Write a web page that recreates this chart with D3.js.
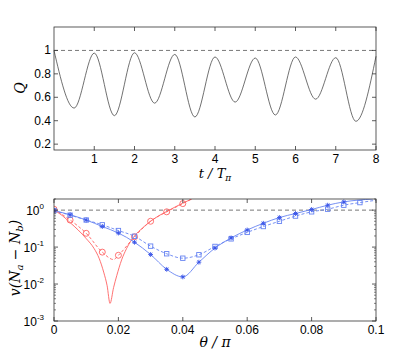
<!DOCTYPE html>
<html lang="en">
<head>
<meta charset="UTF-8">
<script src="https://d3js.org/d3.v7.min.js"></script>
<style>
  body { margin: 0; background: #fff; }
  text { font-family: "Liberation Sans", Arial, sans-serif; }
  .lab { font-family: "DejaVu Serif", "Liberation Serif", serif; font-style: italic; }
</style>
</head>
<body>
<div id="chart"></div>
<script>
// ---- top panel: Q(t) ----
const tVals = [0, 0.5, 1, 1.5, 2, 2.5, 3, 3.5, 4, 4.5, 5, 5.5, 6, 6.5, 7, 7.5, 8]
const qVals = [1.0, 0.508, 0.977, 0.443, 0.98, 0.55, 0.966, 0.432, 0.944, 0.559, 0.935, 0.449, 0.944, 0.584, 0.938, 0.395, 0.95]
const topTicksX = [1, 2, 3, 4, 5, 6, 7, 8]
const topTicksY = [0.2, 0.4, 0.6, 0.8, 1]

// ---- bottom panel: v(Na - Nb) vs theta/pi ----
// red solid (no markers)
const redSolidX = [0, 0.0025, 0.005, 0.0075, 0.01, 0.0125, 0.014, 0.0155, 0.0165, 0.0174, 0.0185, 0.0195, 0.021, 0.0225, 0.025, 0.0275, 0.03, 0.0325, 0.035, 0.0375, 0.04, 0.0428]
const redSolidY = [1.0, 0.72, 0.46, 0.29, 0.17, 0.09, 0.05, 0.02, 0.009, 0.003, 0.008, 0.017, 0.045, 0.09, 0.2, 0.33, 0.5, 0.7, 0.92, 1.2, 1.55, 2.0]
// red dashed with circles
const redDashX = [0, 0.005, 0.01, 0.015, 0.0185, 0.02, 0.025, 0.03, 0.035, 0.04, 0.0425]
const redDashY = [1.06, 0.54, 0.236, 0.073, 0.046, 0.06, 0.19, 0.5, 0.9, 1.5, 1.95]
const redMarkX = [0, 0.005, 0.01, 0.015, 0.02, 0.025, 0.03, 0.035, 0.04]
const redMarkY = [1.06, 0.54, 0.236, 0.073, 0.06, 0.19, 0.5, 0.9, 1.5]
// blue solid with asterisks
const blueSolidX = [0, 0.005, 0.01, 0.015, 0.02, 0.025, 0.03, 0.035, 0.04, 0.045, 0.05, 0.055, 0.06, 0.065, 0.07, 0.075, 0.08, 0.085, 0.09, 0.099]
const blueSolidY = [0.97, 0.75, 0.54, 0.36, 0.24, 0.135, 0.063, 0.025, 0.0156, 0.039, 0.094, 0.177, 0.29, 0.44, 0.63, 0.81, 1.04, 1.36, 1.67, 2.0]
const blueStarN = 19
// blue dashed with squares
const blueDashX = [0, 0.005, 0.01, 0.015, 0.02, 0.025, 0.03, 0.035, 0.04, 0.045, 0.05, 0.055, 0.06, 0.065, 0.07, 0.075, 0.08, 0.085, 0.09, 0.095, 0.1]
const blueDashY = [0.97, 0.73, 0.54, 0.40, 0.28, 0.196, 0.106, 0.066, 0.05, 0.062, 0.104, 0.167, 0.25, 0.36, 0.5, 0.69, 0.9, 1.06, 1.36, 1.6, 1.85]
const blueSquareN = 20
const botTicksX = [0, 0.02, 0.04, 0.06, 0.08, 0.1]
const botTicksY = [-3, -2, -1, 0]

const width = 415, height = 362
const L = 54, R = 376
const red = "#ff6262", blue = "#6683f2", frame = "#333"

const svg = d3.select("#chart").append("svg")
  .attr("width", width).attr("height", height)

// ================= top panel =================
const x1 = d3.scaleLinear().domain([0, 8]).range([L, R])
const y1 = d3.scaleLinear().domain([0.15, 1.2]).range([150, 27])
const g1 = svg.append("g")

g1.append("line").attr("x1", L).attr("x2", R).attr("y1", y1(1)).attr("y2", y1(1))
  .attr("stroke", "#555").attr("stroke-dasharray", "4,3").attr("stroke-width", 0.8)

g1.append("path")
  .datum(tVals.map((t, i) => [t, qVals[i]]))
  .attr("fill", "none").attr("stroke", "#333").attr("stroke-width", 0.7)
  .attr("d", d3.line().x(d => x1(d[0])).y(d => y1(d[1])).curve(d3.curveMonotoneX))

g1.append("rect").attr("x", L).attr("y", 27).attr("width", R - L).attr("height", 123)
  .attr("fill", "none").attr("stroke", frame).attr("stroke-width", 0.8)

topTicksX.forEach(v => {
  g1.append("line").attr("x1", x1(v)).attr("x2", x1(v)).attr("y1", 150).attr("y2", 146).attr("stroke", frame).attr("stroke-width", 0.8)
  g1.append("line").attr("x1", x1(v)).attr("x2", x1(v)).attr("y1", 27).attr("y2", 31).attr("stroke", frame).attr("stroke-width", 0.8)
  g1.append("text").attr("x", x1(v)).attr("y", 163).attr("text-anchor", "middle")
    .attr("font-size", 12).text(v)
})
topTicksY.forEach(v => {
  g1.append("line").attr("x1", L).attr("x2", L + 4).attr("y1", y1(v)).attr("y2", y1(v)).attr("stroke", frame).attr("stroke-width", 0.8)
  g1.append("line").attr("x1", R).attr("x2", R - 4).attr("y1", y1(v)).attr("y2", y1(v)).attr("stroke", frame).attr("stroke-width", 0.8)
  g1.append("text").attr("x", L - 3).attr("y", y1(v) + 4).attr("text-anchor", "end")
    .attr("font-size", 12).text(v)
})

g1.append("text").attr("class", "lab").attr("font-size", 14)
  .attr("transform", "translate(25,88) rotate(-90)").attr("text-anchor", "middle").text("Q")
const tl = g1.append("text").attr("class", "lab").attr("font-size", 13)
  .attr("x", 215).attr("y", 178).attr("text-anchor", "middle")
tl.append("tspan").text("t / T")
tl.append("tspan").attr("font-size", 9).attr("dy", 3).text("π")

// ================= bottom panel =================
const x2 = d3.scaleLinear().domain([0, 0.1]).range([L, R])
const y2 = d3.scaleLog().domain([1e-3, 2]).range([321, 199])
const g2 = svg.append("g")
const clip = svg.append("clipPath").attr("id", "clip2")
clip.append("rect").attr("x", L).attr("y", 199).attr("width", R - L).attr("height", 122)

g2.append("line").attr("x1", L).attr("x2", R).attr("y1", y2(1)).attr("y2", y2(1))
  .attr("stroke", "#555").attr("stroke-dasharray", "4,3").attr("stroke-width", 0.8)

const line2 = d3.line().x(d => x2(d[0])).y(d => y2(d[1])).curve(d3.curveMonotoneX)
const lines = g2.append("g").attr("clip-path", "url(#clip2)")

function series(xs, ys, color, dash) {
  lines.append("path").datum(xs.map((v, i) => [v, ys[i]]))
    .attr("fill", "none").attr("stroke", color).attr("stroke-width", 0.9)
    .attr("stroke-dasharray", dash ? "3,2" : null)
    .attr("d", line2)
}
series(redSolidX, redSolidY, red, false)
series(redDashX, redDashY, red, true)
series(blueDashX, blueDashY, blue, true)
series(blueSolidX, blueSolidY, blue, false)

// circles
lines.selectAll(".rc").data(redMarkX.map((v, i) => [v, redMarkY[i]])).join("circle")
  .attr("cx", d => x2(d[0])).attr("cy", d => y2(d[1])).attr("r", 3)
  .attr("fill", "none").attr("stroke", red).attr("stroke-width", 0.9)
// squares
lines.selectAll(".bs").data(blueDashX.slice(0, blueSquareN).map((v, i) => [v, blueDashY[i]])).join("rect")
  .attr("x", d => x2(d[0]) - 2.2).attr("y", d => y2(d[1]) - 2.2).attr("width", 4.4).attr("height", 4.4)
  .attr("fill", "none").attr("stroke", blue).attr("stroke-width", 0.9)
// asterisks
const star = lines.selectAll(".st").data(blueSolidX.slice(0, blueStarN).map((v, i) => [v, blueSolidY[i]])).join("g")
  .attr("transform", d => `translate(${x2(d[0])},${y2(d[1])})`)
;[0, 45, 90, 135].forEach(a => {
  star.append("line").attr("x1", -2.4).attr("x2", 2.4).attr("y1", 0).attr("y2", 0)
    .attr("transform", `rotate(${a})`).attr("stroke", "#3a55e8").attr("stroke-width", 0.9)
})

g2.append("rect").attr("x", L).attr("y", 199).attr("width", R - L).attr("height", 122)
  .attr("fill", "none").attr("stroke", frame).attr("stroke-width", 0.8)

botTicksX.forEach(v => {
  g2.append("line").attr("x1", x2(v)).attr("x2", x2(v)).attr("y1", 321).attr("y2", 317).attr("stroke", frame).attr("stroke-width", 0.8)
  g2.append("line").attr("x1", x2(v)).attr("x2", x2(v)).attr("y1", 199).attr("y2", 203).attr("stroke", frame).attr("stroke-width", 0.8)
  g2.append("text").attr("x", x2(v)).attr("y", 334).attr("text-anchor", "middle")
    .attr("font-size", 12).text(v)
})
botTicksY.forEach(e => {
  const yy = y2(Math.pow(10, e))
  g2.append("line").attr("x1", L).attr("x2", L + 4).attr("y1", yy).attr("y2", yy).attr("stroke", frame).attr("stroke-width", 0.8)
  g2.append("line").attr("x1", R).attr("x2", R - 4).attr("y1", yy).attr("y2", yy).attr("stroke", frame).attr("stroke-width", 0.8)
  const t = g2.append("text").attr("x", L - 10).attr("y", yy + 5).attr("text-anchor", "end").attr("font-size", 12)
  t.append("tspan").text("10")
  t.append("tspan").attr("font-size", 8).attr("dy", -6).text(e)
  // minor ticks
  for (let m = 2; m <= 9; m++) {
    const v = m * Math.pow(10, e)
    if (v > 2) break
    const ym = y2(v)
    g2.append("line").attr("x1", L).attr("x2", L + 2).attr("y1", ym).attr("y2", ym).attr("stroke", frame).attr("stroke-width", 0.6)
    g2.append("line").attr("x1", R).attr("x2", R - 2).attr("y1", ym).attr("y2", ym).attr("stroke", frame).attr("stroke-width", 0.6)
  }
})

const vl = g2.append("text").attr("class", "lab").attr("font-size", 14)
  .attr("transform", "translate(20,258) rotate(-90)").attr("text-anchor", "middle")
vl.append("tspan").text("v(N")
vl.append("tspan").attr("font-size", 10).attr("dy", 3).text("a")
vl.append("tspan").attr("dy", -3).text(" − N")
vl.append("tspan").attr("font-size", 10).attr("dy", 3).text("b")
vl.append("tspan").attr("dy", -3).text(")")

g2.append("text").attr("class", "lab").attr("font-size", 14)
  .attr("x", 215).attr("y", 347).attr("text-anchor", "middle").text("θ / π")
</script>
</body>
</html>
